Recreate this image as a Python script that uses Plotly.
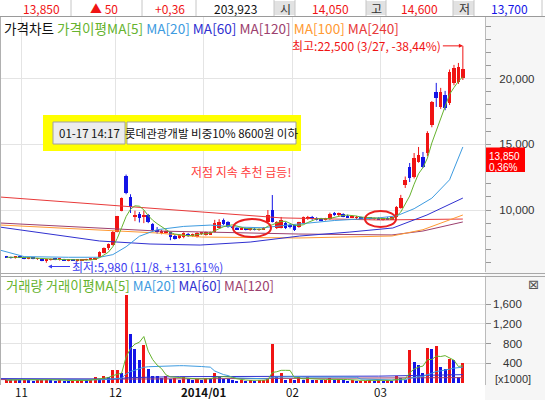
import plotly.graph_objects as go
import pandas as pd

W, H = 545, 400

# ---------------- data ----------------
days = list(range(-4, 100))  # trading-day index, 0 = 2013-11-01

opens = [6450, 6400, 6350, 6450, 6380, 6300, 6350, 6280, 6300, 6150,
         6200, 6250, 6220, 6250, 6180, 6200, 6150, 6180, 6200, 6220,
         6250, 6420, 6750, 7100, 7350, 8320, 9920, 12590, 11000, 9500,
         9700, 9500, 9600, 8900, 8500, 8300, 8300, 8300, 8000, 7850,
         7950, 8200, 8050, 7950, 8200, 8100, 8150, 8320, 8650, 9240,
         9090, 8650, 8630, 8550, 8600, 8500, 8550, 8480, 8550, 9090,
         10000, 8630, 8630, 9010, 8860, 8860, 8700, 9010, 9300, 9470,
         9400, 9350, 9250, 9310, 9700, 9650, 9700, 9550, 9450, 9400,
         9450, 9350, 9400, 9320, 9380, 9300, 9350, 9300, 9470, 10150,
         11900, 13280, 12510, 13660, 14040, 14340, 16480, 18990, 17850, 18760,
         18150, 19680, 19750, 20060]
highs = [6500, 6450, 6480, 6500, 6420, 6400, 6400, 6350, 6320, 6250,
         6300, 6350, 6300, 6280, 6250, 6250, 6200, 6250, 6280, 6300,
         6400, 6850, 7150, 7450, 8400, 9550, 10950, 12700, 11200, 9950,
         9850, 9950, 9700, 9000, 8700, 8500, 8450, 8350, 8100, 8150,
         8300, 8250, 8200, 8300, 8300, 8350, 8350, 9250, 9300, 9350,
         9150, 8750, 8700, 8650, 8650, 8600, 8620, 8600, 8700, 10000,
         11140, 9150, 9470, 9100, 8950, 8900, 9100, 9500, 9550, 9550,
         9450, 9400, 9400, 9800, 9850, 9800, 9750, 9650, 9600, 9550,
         9500, 9450, 9450, 9420, 9450, 9400, 9450, 9500, 10300, 11150,
         12550, 13580, 14340, 14800, 14420, 16000, 18300, 19680, 19300, 19070,
         20700, 21050, 21200, 22500]
lows = [6350, 6300, 6300, 6350, 6250, 6250, 6250, 6200, 6100, 5980,
        6150, 6180, 6150, 6150, 6100, 6120, 6080, 6120, 6150, 6180,
        6220, 6400, 6700, 6950, 7300, 8300, 9900, 11200, 9770, 9150,
        9050, 9000, 9000, 8350, 8200, 8150, 8200, 7700, 7750, 7800,
        7850, 7950, 7950, 7900, 8100, 8050, 8100, 8300, 8600, 8850,
        8650, 8550, 8500, 8480, 8450, 8420, 8450, 8420, 8500, 9050,
        9050, 8550, 8600, 8550, 8600, 8400, 8650, 8950, 9250, 9250,
        9200, 9150, 9200, 9250, 9550, 9500, 9450, 9400, 9380, 9300,
        9300, 9250, 9280, 9250, 9280, 9200, 9280, 9250, 9400, 10100,
        11680, 12130, 12400, 13600, 13200, 14100, 16300, 17850, 17700, 17600,
        18000, 19500, 19600, 19900]
closes = [6400, 6350, 6450, 6380, 6300, 6350, 6280, 6300, 6150, 6200,
          6250, 6220, 6250, 6180, 6200, 6150, 6180, 6200, 6220, 6250,
          6380, 6800, 7100, 7400, 8320, 9540, 10950, 11300, 10200, 9600,
          9400, 9550, 9100, 8450, 8300, 8350, 8380, 7950, 7850, 8100,
          8250, 8050, 8100, 8250, 8250, 8300, 8300, 9010, 9090, 8930,
          8700, 8630, 8550, 8600, 8500, 8550, 8480, 8550, 8650, 9620,
          9090, 9090, 9240, 8630, 8700, 8480, 9090, 9470, 9500, 9300,
          9250, 9200, 9350, 9700, 9650, 9750, 9500, 9450, 9550, 9450,
          9350, 9400, 9320, 9380, 9300, 9350, 9300, 9450, 10230, 10910,
          12290, 12440, 13960, 14190, 13280, 15870, 18230, 18530, 18990, 17770,
          20520, 20820, 20900, 20740]
volumes = [60, 70, 80, 60, 70, 60, 50, 60, 80, 90,
           60, 50, 55, 50, 45, 50, 55, 60, 55, 70,
           120, 90, 150, 130, 260, 270, 200, 1780, 1000, 700,
           460, 780, 290, 150, 140, 100, 150, 90, 110, 70,
           120, 80, 60, 90, 70, 110, 100, 200, 150, 90,
           80, 60, 50, 60, 50, 60, 50, 55, 70, 100,
           800, 120, 200, 70, 90, 60, 120, 70, 120, 60,
           70, 60, 60, 100, 60, 80, 60, 50, 60, 50,
           50, 50, 60, 50, 60, 50, 60, 50, 150, 100,
           60, 680, 420, 360, 200, 720, 690, 760, 320, 290,
           490, 460, 120, 400]

# moving averages (day index, value)
ma20_days = [-5.5, 0, 10, 17, 20, 23, 26, 30, 36, 42, 48, 54, 58, 62, 70, 80, 84, 88, 92, 96, 99]
ma20_vals = [6950, 6450, 6400, 6400, 6600, 7200, 8000, 8500, 8750, 8850, 8700, 8650, 8800,
             8950, 9200, 9400, 9550, 10100, 10900, 12300, 14800]
ma60_days = [-5.5, 5.8, 17, 28.4, 39.7, 51, 62.2, 73.5, 83.2, 90.9, 99]
ma60_vals = [8700, 8170, 7640, 7410, 7330, 7560, 8020, 8320, 8630, 9620, 10910]
ma100_days = [-5.5, 30, 40, 62, 83, 90, 99]
ma100_vals = [8860, 8250, 7940, 7870, 8020, 8500, 9620]
ma120_days = [-5.5, 30, 62, 83, 90, 99]
ma120_vals = [9010, 8400, 8170, 8100, 8400, 9090]
ma240_days = [-5.5, 58, 80, 99]
ma240_vals = [10990, 9400, 9240, 9310]

vma60_days = [-5.5, 20, 24, 35, 80, 99]
vma60_vals = [90, 80, 110, 130, 140, 170]
vma120_days = [-5.5, 24, 99]
vma120_vals = [70, 80, 110]

month_ticks = [-0.5, 20.5, 40.5, 60.5, 80.5]
month_labels = ["11", "12", "<b>2014/01</b>", "02", "03"]
price_ticks = [10000, 15000, 20000]
vol_ticks = [400, 800, 1200, 1600]

# ---------------- colours ----------------
RED = "#f01414"
BLUE = "#1414e6"
C_MA5 = "#66b32e"
C_MA20 = "#3d9be0"
C_MA60 = "#3030d0"
C_MA120 = "#9c3f6e"
C_MA100 = "#ff9a33"
C_MA240 = "#e83a3a"
FONT = "Noto Sans CJK KR, Noto Sans, sans-serif"
NUMFONT = "Liberation Sans, Arial, sans-serif"

df = pd.DataFrame({"d": days, "o": opens, "h": highs, "l": lows, "c": closes, "v": volumes})
df["ma5"] = df["c"].rolling(5, min_periods=1).mean()
df["vma5"] = df["v"].rolling(5, min_periods=1).mean()
df["vma20"] = df["v"].rolling(20, min_periods=1).mean()
df["up"] = df["c"] >= df["o"]
df["base"] = df[["o", "c"]].min(axis=1)
df["body"] = (df["c"] - df["o"]).abs().clip(lower=60)
df["vup"] = df["v"] >= df["v"].shift(1).fillna(0)

fig = go.Figure()

def wick_xy(sub):
    xs, ys = [], []
    for _, r in sub.iterrows():
        xs += [r.d, r.d, None]
        ys += [r.l, r.h, None]
    return xs, ys

for flag, col in [(True, RED), (False, BLUE)]:
    sub = df[df.up == flag]
    wx, wy = wick_xy(sub)
    fig.add_trace(go.Scatter(x=wx, y=wy, mode="lines", line=dict(color=col, width=1),
                             xaxis="x2", yaxis="y", hoverinfo="skip"))
    fig.add_trace(go.Bar(x=sub.d, y=sub.body, base=sub.base, width=0.8,
                         marker=dict(color=col, line=dict(width=0)), xaxis="x2", yaxis="y"))

def line(x, y, col, xa, ya):
    fig.add_trace(go.Scatter(x=x, y=y, mode="lines", line=dict(color=col, width=1),
                             xaxis=xa, yaxis=ya, hoverinfo="skip"))

line(ma240_days, ma240_vals, C_MA240, "x2", "y")
line(ma120_days, ma120_vals, C_MA120, "x2", "y")
line(ma100_days, ma100_vals, C_MA100, "x2", "y")
line(ma60_days, ma60_vals, C_MA60, "x2", "y")
line(ma20_days, ma20_vals, C_MA20, "x2", "y")
line(df.d, df.ma5, C_MA5, "x2", "y")

for flag, col in [(True, RED), (False, BLUE)]:
    sub = df[df.vup == flag]
    fig.add_trace(go.Bar(x=sub.d, y=sub.v, width=0.68, marker=dict(color=col, line=dict(width=0)),
                         xaxis="x", yaxis="y2"))
line(vma120_days, vma120_vals, C_MA120, "x", "y2")
line(vma60_days, vma60_vals, C_MA60, "x", "y2")
line(df.d, df.vma20, C_MA20, "x", "y2")
line(df.d, df.vma5, C_MA5, "x", "y2")

# ---------------- layout helpers ----------------
def X(px):
    return px / W

def Y(py):
    return 1 - py / H

PLOT_R = 485
P_TOP, P_BOT = 17, 272
V_TOP, V_BOT = 277, 385

shapes = []
annotations = []

def rect(x0, y0, x1, y1, fill=None, lc=None, lw=1, layer="above"):
    shapes.append(dict(type="rect", xref="paper", yref="paper", x0=X(x0), x1=X(x1), y0=Y(y1), y1=Y(y0),
                       fillcolor=fill if fill else "rgba(0,0,0,0)",
                       line=dict(color=lc if lc else "rgba(0,0,0,0)", width=lw if lc else 0), layer=layer))

def hline(x0, x1, y, col, lw=1, layer="above"):
    shapes.append(dict(type="line", xref="paper", yref="paper", x0=X(x0), x1=X(x1), y0=Y(y), y1=Y(y),
                       line=dict(color=col, width=lw), layer=layer))

def vline(x, y0, y1, col, lw=1, layer="above"):
    shapes.append(dict(type="line", xref="paper", yref="paper", x0=X(x), x1=X(x), y0=Y(y0), y1=Y(y1),
                       line=dict(color=col, width=lw), layer=layer))

def text(x, y, t, size=12, color="#000", xanchor="left", yanchor="middle", family=FONT, **kw):
    annotations.append(dict(x=X(x), y=Y(y), xref="paper", yref="paper", text=t, showarrow=False,
                            xanchor=xanchor, yanchor=yanchor,
                            font=dict(size=size, color=color, family=family), **kw))

# right axis area background
rect(PLOT_R, P_TOP, W, V_BOT + 15, fill="#f6f6f6", layer="below")

# header bar
rect(0, 0, W, 16, fill="#ffffff")
cells = [0, 71, 142, 196, 274, 295, 366, 386, 453, 474, 542]
for x0, x1 in [(274, 295), (366, 386), (453, 474)]:
    rect(x0, 1, x1, 15, fill="#e2e2e2")
for cx in cells[1:]:
    vline(cx, 0, 16, "#c6c6c6")
hline(0, W, 16.5, "#9a9a9a")
text(41, 8, "13,850", size=12, color=RED, xanchor="center")
text(104, 8, "▲ 50", size=12, color=RED, xanchor="center")
text(170, 8, "+0,36", size=12, color=RED, xanchor="center")
text(235, 8, "203,923", size=12, color="#111", xanchor="center")
text(285, 8, "시", size=12, color="#333", xanchor="center")
text(330, 8, "14,050", size=12, color=RED, xanchor="center")
text(376, 8, "고", size=12, color="#333", xanchor="center")
text(419, 8, "14,600", size=12, color=RED, xanchor="center")
text(464, 8, "저", size=12, color="#333", xanchor="center")
text(509, 8, "13,700", size=12, color=BLUE, xanchor="center")

# panel separators / frames
hline(0, W, 273.5, "#a8a8a8")
hline(0, W, 276.5, "#a8a8a8")
vline(0.5, P_TOP, V_BOT, "#b0b0b0")

# price legend
legend = ('<span style="color:#111">가격차트</span> '
          f'<span style="color:{C_MA5}">가격이평MA[5]</span> '
          f'<span style="color:{C_MA20}">MA[20]</span> '
          f'<span style="color:{C_MA60}">MA[60]</span> '
          f'<span style="color:{C_MA120}">MA[120]</span> '
          f'<span style="color:{C_MA100}">MA[100]</span> '
          f'<span style="color:{C_MA240}">MA[240]</span>')
text(2, 28, legend, size=13.6)

# volume legend
vlegend = (f'<span style="color:{C_MA5}">거래량 거래이평MA[5]</span> '
           f'<span style="color:{C_MA20}">MA[20]</span> '
           f'<span style="color:{C_MA60}">MA[60]</span> '
           f'<span style="color:{C_MA120}">MA[120]</span>')
text(4, 285, vlegend, size=13.3)
text(533, 284, "⊠", size=13, color="#555", xanchor="center", family="DejaVu Sans")

# high / low notes
annotations.append(dict(x=99, y=22500, xref="x2", yref="y", ax=-20, ay=0, showarrow=True,
                        arrowhead=2, arrowsize=0.8, arrowwidth=1, arrowcolor=RED,
                        text="최고:22,500 (3/27, -38,44%)", xanchor="right",
                        font=dict(size=12, color=RED, family=FONT)))
annotations.append(dict(x=X(48), y=Y(266.5), xref="paper", yref="paper", ax=22, ay=0, showarrow=True,
                        arrowhead=2, arrowsize=0.8, arrowwidth=1, arrowcolor="#3c3cf0",
                        text="최저:5,980 (11/8, +131,61%)", xanchor="left",
                        font=dict(size=12, color="#3c3cf0", family=FONT)))

# yellow note box
rect(43, 115, 301, 151, fill="#ffff00")
rect(53, 122, 125, 144, fill="#ececec", lc="#a0a0a0")
rect(127, 122, 296, 144, fill="#ffffff", lc="#a0a0a0")
text(89, 133, "01-17 14:17", size=11.5, color="#111", xanchor="center")
text(211, 133, "롯데관광개발 비중10% 8600원 이하", size=11.5, color="#111", xanchor="center")

text(241, 172, "저점 지속 추천 급등!", size=12, color="#ff3b3b", xanchor="center")

# red circles
for x0, y0, x1, y1 in [(233, 219, 271, 237), (365, 211, 396, 227)]:
    shapes.append(dict(type="circle", xref="paper", yref="paper", x0=X(x0), x1=X(x1), y0=Y(y1), y1=Y(y0),
                       line=dict(color="#e82020", width=2)))

# current price marker (box spans about 12.5 px around the price)
cur_price = 13850
px_per_unit = 255 / (24699 - 5278)
shapes.append(dict(type="rect", xref="paper", yref="y", x0=X(486), x1=X(525),
                   y0=cur_price - 12.5 / px_per_unit, y1=cur_price + 12.0 / px_per_unit,
                   fillcolor="#ff0000", line=dict(width=0)))
for txt, off in [("13,850", 3.3), ("0,36%", -8.0)]:
    annotations.append(dict(x=X(488), y=cur_price + off / px_per_unit, xref="paper", yref="y", text=txt,
                            showarrow=False, xanchor="left", yanchor="middle",
                            font=dict(size=10, color="#ffffff", family=NUMFONT), borderpad=0))

# volume axis labels (right aligned)
for v in vol_ticks:
    annotations.append(dict(x=X(524), y=v, xref="paper", yref="y2", text=f"{v:,}", showarrow=False,
                            xanchor="right", yanchor="middle", font=dict(size=11.5, color="#333", family=NUMFONT)))
text(533, 379, "[x1000]", size=11, color="#333", xanchor="right", family=NUMFONT)

# month labels under the volume panel
for tv, tl in zip(month_ticks, month_labels):
    annotations.append(dict(x=tv, y=Y(392), xref="x", yref="paper", text=tl, showarrow=False,
                            xanchor="center", yanchor="middle", font=dict(size=11.5, color="#111", family=FONT)))

xr = [-5.46, 104.0]
fig.update_layout(
    width=W, height=H, margin=dict(l=0, r=0, t=0, b=0),
    paper_bgcolor="#ffffff", plot_bgcolor="#ffffff",
    showlegend=False, barmode="overlay", bargap=0,
    font=dict(family=FONT, size=12, color="#333"),
    xaxis=dict(domain=[0, X(PLOT_R)], anchor="y2", range=xr, tickvals=month_ticks,
               showticklabels=False,
               showgrid=True, gridcolor="#e4e4e4", gridwidth=1, zeroline=False, ticks="",
               showline=False, fixedrange=True),
    xaxis2=dict(domain=[0, X(PLOT_R)], anchor="y", range=xr, matches="x", tickvals=month_ticks,
                showticklabels=False, showgrid=True, gridcolor="#e4e4e4", zeroline=False, ticks=""),
    yaxis=dict(domain=[Y(P_BOT), Y(P_TOP)], anchor="x2", side="right", range=[5278, 24699],
               tickvals=price_ticks, tickformat=",d", showgrid=True, gridcolor="#e4e4e4",
               zeroline=False, ticks="outside", ticklen=5, tickcolor="#999",
               minor=dict(dtick=1000, tick0=0, ticks="outside", ticklen=5, tickcolor="#999", showgrid=False),
               showline=True, linecolor="#bbbbbb", tickfont=dict(size=11.5, color="#333", family=NUMFONT),
               ticklabelstandoff=6),
    yaxis2=dict(domain=[Y(V_BOT), Y(V_TOP)], anchor="x", side="right", range=[-40, 2152],
                tickvals=vol_ticks, showticklabels=False, showgrid=True, gridcolor="#e4e4e4",
                zeroline=False, ticks="outside", ticklen=5, tickcolor="#999",
                showline=True, linecolor="#bbbbbb"),
    shapes=shapes, annotations=annotations,
)

fig.write_html("out.html", config={"displayModeBar": False},
               post_script="document.body.style.margin='0px';")
